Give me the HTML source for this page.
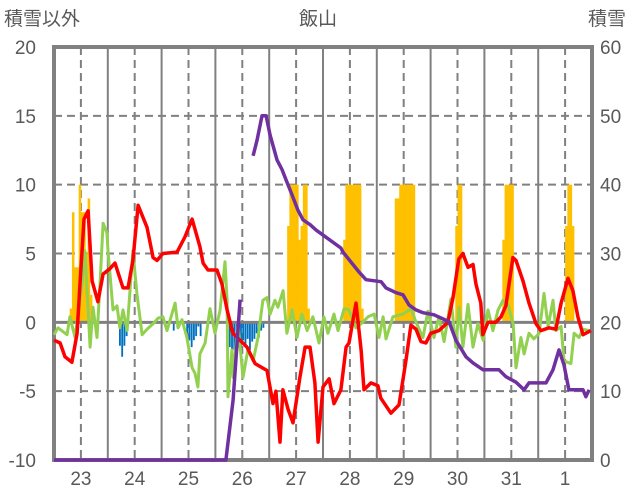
<!DOCTYPE html>
<html><head><meta charset="utf-8"><style>
html,body{margin:0;padding:0;background:#fff;width:636px;height:501px;overflow:hidden}
svg{display:block;font-family:"Liberation Sans","Noto Sans CJK JP",sans-serif}
</style></head><body>
<svg id="chart" width="636" height="501" viewBox="0 0 636 501" xmlns="http://www.w3.org/2000/svg">
<text x="318" y="25" font-size="19" fill="#595959" text-anchor="middle">飯山</text>
<text x="4" y="25" font-size="19" fill="#595959">積雪以外</text>
<text x="588" y="25" font-size="19" fill="#595959">積雪</text>
<g id="grid"></g><g id="bars"></g><g id="axes"></g><g id="lines"></g>
</svg>
<script>
const leftTicks=[20,15,10,5,0,-5,-10];
const rightTicks=[60,50,40,30,20,10,0];
const dayLabels=["23","24","25","26","27","28","29","30","31","1"];
const redHours=[0,2.7,4.9,8,10.3,11.6,13.4,15.2,17,19.6,21.9,25,27.2,30.8,33,35.2,37.5,41.5,44.2,46,48.6,54.9,58.4,61.6,65.1,66.5,68.7,72.7,74.9,77.2,79.8,86.1,89.7,95,97.7,99,100.8,102.1,104.4,106.6,109.7,112,114.2,116.4,117.8,120,122.7,124.9,128,130.3,131.6,134.7,137,138.3,141.4,144.5,145.8,150.3,153.9,157,159.2,161.5,163.7,165.9,168.1,171.7,175.7,178,180.6,182.4,184.7,186.9,188.2,190.4,191.3,193.6,197.1,199.4,201.6,204.7,206.1,209.2,211.9,215,217.2,220.8,223.9,226.2,229.3,231.5,233.7,236,239.5];
const redVals=[-1.3,-1.5,-2.5,-2.9,-0.8,2.8,7.5,8.1,3,1.5,3.5,3.9,4.3,2.5,2.5,4.5,8.5,6.9,4.7,4.5,5,5.1,6.2,7.5,5.5,4.3,3.8,3.8,2.8,0.9,-0.8,-1.8,-3,-3.5,-5.9,-5,-8.7,-4.9,-6.3,-7.3,-4,-1.8,-1.8,-4.4,-8.7,-4.7,-4.1,-5.9,-4.9,-1.8,-1.5,1.4,-2,-4.9,-4.4,-4.6,-5.5,-6.6,-6,-2.8,-0.2,-0.5,-1.4,-1.5,-0.8,-0.6,0,1.8,4.6,5,4,4.2,2.8,1.4,-0.9,0,0,0.4,1.2,4.7,4.5,3,1.4,-0.1,-0.6,-0.4,-0.5,1.4,3.2,2.3,0.4,-0.9,-0.6];
const greenHours=[0,1.8,5.8,7.1,9.4,12.5,13.8,16.1,17.4,19.2,20.5,21.9,23.6,24.1,26.3,28.1,29.4,30.8,32.6,34.8,35.2,37,39.3,41.5,44.2,46.4,48.6,50.4,52.6,54,55.3,57.1,59.3,61.6,62.9,64.2,65.1,67.4,69.6,71.8,74.1,76.3,77.2,77.6,79.4,79.9,82.1,84.3,86.5,88.8,91,93.2,95,96.4,98.6,99.9,102.2,103.9,106.2,108.4,110.6,112.9,115.5,118.2,120.4,122.2,124.9,126.7,129.4,131.6,134.7,137,140.1,142.8,145,146.8,148.1,151.2,155.7,159.3,161.5,164.6,166.8,169.5,171.7,174,177.1,179.3,180.7,182.4,184.7,186.9,189.1,191.4,193.6,195.8,198.1,200.3,202.5,204.8,206.1,208.3,209.7,211.9,214.1,216.4,218.6,220.4,222.6,223.9,226.2,227.5,230.6,232,234.2,236,238.7];
const greenVals=[-0.9,-0.4,-0.9,0.4,-1.1,2.8,5.2,-1.8,1.1,-1.1,2.8,7.2,6.5,5.2,0.9,1.2,-0.4,0.9,-0.6,4.3,5.2,2.1,-0.9,-0.5,-0.1,0.3,0.4,-0.6,0.6,1.4,-0.4,0.2,-1.1,-3.3,-3.7,-4.7,-2.3,-1.5,1.0,-0.8,0.9,4.4,1.6,-5.4,-2,-4,-0.1,-4,-2,-2.8,-1.1,1.6,1.8,0.6,1.6,1.1,2.3,-0.8,0.9,-1.1,0.6,-0.6,0.4,-1.5,0.4,-0.8,0.6,-0.6,1.0,0.9,-0.4,-0.1,0.4,0.6,-1.1,0.4,-1.2,0.4,0.6,1.0,0,-1.1,0.8,-1.1,0.4,-1.4,1.7,-1.8,1.1,-1.8,1.3,-1.8,-0.1,-1.3,0.9,-0.6,0.9,1.6,1.3,-0.1,-3.3,-1.1,-2.3,-0.8,-1.2,-0.8,2.1,-0.3,1.6,-0.6,-0.3,-2.8,-3.0,-0.8,-1.1,-0.5,-0.6];
const snowHours=[0,76.7,79.9,83,null,88.8,90.6,92.8,94.6,96.4,99.5,101.7,103.5,106.2,108.8,111.1,114.2,116.9,128,128.9,136.1,139.2,145.9,148.1,152.6,155.7,158.4,161.5,164.6,169.5,176.2,179.3,183.8,186.9,191.4,198.5,201.6,206.1,209.7,211.9,219.5,222.6,225.3,227.5,229.7,236,237.3,238.7];
const snowVals=[0,0,8.7,23.3,null,44.2,46.5,50,50,47.2,43.6,42.2,40.7,38.5,36.3,34.9,34.2,33.4,30.8,30.2,27.3,26.2,25.9,25,24.3,24,22.5,21.8,21.4,21.1,20.1,17.4,15,14.1,13.1,13.1,12.1,11.3,10.2,11.2,11.2,13.1,16,13.8,10.2,10.2,9.2,10.2];
const precipHours=[7,8,9,10,11,12,13,14,15,16,104,105,106,107,108,109,110,111,112,113,129,130,131,132,133,134,135,136,137,152,153,154,155,156,157,158,159,160,179,180,181,200,201,202,203,204,228,229,230,231];
const precipVals=[1,8,4,4,10,8,8,5,9,2,7,10,10,10,10,6,7,10,10,1,6,10,10,10,10,10,10,10,1,9,9,10,10,10,10,10,10,10,7,10,10,6,10,10,10,10,7,10,10,7];
const negHours=[29,30,31,32,53,59,60,61,62,63,64,65,77,78,79,80,81,82,83,84,85,86,87,88,89,90,91,92,93,223];
const negVals=[-1.7,-2.5,-1.7,-1,-0.6,-0.8,-1.3,-1.8,-1.3,-1.0,-0.3,-1.0,-2.5,-1.8,-2.8,-2,-2.5,-1.8,-2.2,-1.3,-1.6,-1.2,-2,-1.4,-1.2,-0.8,-1.1,-0.6,-0.4,-0.2];

const X0=54,X1=592,YT=47,YB=460;
const xs=h=>X0+h*(X1-X0)/240;
const yl=v=>YB-(v+10)*(YB-YT)/30;
const yr=v=>YB-v*(YB-YT)/60;
const NS="http://www.w3.org/2000/svg";
function mk(tag,attrs,parent){const e=document.createElementNS(NS,tag);for(const k in attrs)e.setAttribute(k,attrs[k]);parent.appendChild(e);return e;}
const grid=document.getElementById('grid'),bars=document.getElementById('bars'),lines=document.getElementById('lines'),axes=document.getElementById('axes');

leftTicks.forEach((v,i)=>{
  if(v!==20&&v!==-10&&v!==0){const g=mk('line',{x1:X0,x2:X1,y1:yl(v),y2:yl(v),stroke:'#808080','stroke-width':2,'stroke-dasharray':'8,5'},grid);
  
  }
  const t=mk('text',{x:36,y:yl(v)+7,'font-size':19,fill:'#595959','text-anchor':'end'},axes);t.textContent=v;
  
  
});
rightTicks.forEach(v=>{
  const t=mk('text',{x:600,y:yr(v)+7,'font-size':19,fill:'#595959'},axes);t.textContent=v;
  
  
});
for(let d=1;d<10;d++){
  const l=mk('line',{x1:xs(d*24),x2:xs(d*24),y1:YT,y2:YB,stroke:'#808080','stroke-width':2},grid);
  
  
}
dayLabels.forEach((lab,i)=>{
  const h=i*24+12;
  const l=mk('line',{x1:xs(h),x2:xs(h),y1:YT,y2:YB,stroke:'#808080','stroke-width':2,'stroke-dasharray':'8,5'},grid);
  
  
  const t=mk('text',{x:xs(h),y:485,'font-size':19,fill:'#595959','text-anchor':'middle'},axes);t.textContent=lab;
  
  
});
const bw=(X1-X0)/240;
precipHours.forEach((h,i)=>{
  const v=precipVals[i];
  const r=mk('rect',{x:xs(h),y:yl(v),width:bw+0.3,height:yl(0)-yl(v),fill:'#FFC000'},bars);
  
  
});
negHours.forEach((h,i)=>{
  const v=negVals[i];
  const r=mk('rect',{x:xs(h),y:yl(0),width:bw-0.4,height:yl(v)-yl(0),fill:'#0070C0'},bars);
  
  
});
const zl=mk('line',{x1:X0,x2:X1,y1:yl(0),y2:yl(0),stroke:'#808080','stroke-width':3},bars);


const fr=mk('rect',{x:X0,y:YT,width:X1-X0,height:YB-YT,fill:'none',stroke:'#808080','stroke-width':4},axes);


function path(hs,vs,yf){let d='',pen=false;hs.forEach((h,i)=>{if(h===null||vs[i]===null){pen=false;return;}d+=(pen?'L':'M')+xs(h).toFixed(1)+','+yf(vs[i]).toFixed(1);pen=true;});return d;}
const gp=mk('path',{d:path(greenHours,greenVals,yl),fill:'none',stroke:'#92D050','stroke-width':3,'stroke-linejoin':'round'},lines);


const rp=mk('path',{d:path(redHours,redVals,yl),fill:'none',stroke:'#FF0000','stroke-width':3.5,'stroke-linejoin':'round'},lines);


const pp=mk('path',{d:path(snowHours,snowVals,yr),fill:'none',stroke:'#7030A0','stroke-width':3.5,'stroke-linejoin':'round'},lines);


</script>
</body></html>
